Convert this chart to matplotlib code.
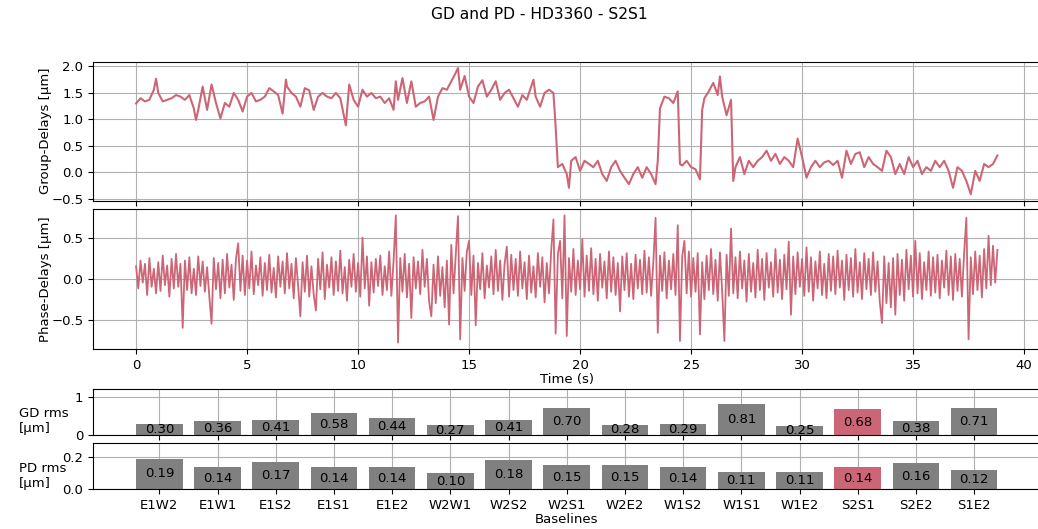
import numpy as np
import matplotlib.pyplot as plt

plt.rcParams["font.size"] = 9.5

# group-delay trace for S2S1 (time in s, value in µm)
gd_time = [0.0, 0.2, 0.4, 0.6, 0.8, 0.9, 1.0, 1.2, 1.4, 1.6, 1.8, 2.0, 2.2, 2.4, 2.6, 2.7,
           2.8, 3.0, 3.2, 3.4, 3.6, 3.8, 4.0, 4.2, 4.4, 4.6, 4.8, 5.0, 5.2, 5.4, 5.6, 5.8,
           6.0, 6.2, 6.4, 6.6, 6.75, 6.8, 7.0, 7.2, 7.4, 7.6, 7.8, 8.0, 8.2, 8.4, 8.6, 8.8,
           9.0, 9.2, 9.4, 9.45, 9.6, 9.8, 10.0, 10.2, 10.4, 10.6, 10.8, 11.0, 11.2, 11.4, 11.6, 11.7,
           11.8, 12.0, 12.2, 12.4, 12.6, 12.8, 13.0, 13.2, 13.4, 13.6, 13.8, 14.0, 14.2, 14.4, 14.5, 14.6,
           14.8, 15.0, 15.2, 15.4, 15.6, 15.8, 16.0, 16.2, 16.4, 16.6, 16.8, 17.0, 17.2, 17.4, 17.6, 17.8,
           17.9, 18.0, 18.2, 18.4, 18.6, 18.8, 18.9, 19.0, 19.2, 19.4, 19.5, 19.6, 19.8, 20.0, 20.2, 20.4,
           20.6, 20.8, 21.0, 21.2, 21.4, 21.6, 21.8, 22.0, 22.2, 22.4, 22.6, 22.8, 23.0, 23.2, 23.4, 23.5,
           23.6, 23.8, 24.0, 24.2, 24.4, 24.5, 24.6, 24.8, 25.0, 25.2, 25.4, 25.5, 25.6, 25.8, 26.0, 26.2,
           26.3, 26.4, 26.6, 26.8, 26.9, 27.0, 27.2, 27.4, 27.6, 27.8, 28.0, 28.2, 28.4, 28.6, 28.8, 29.0,
           29.2, 29.4, 29.6, 29.8, 30.0, 30.2, 30.4, 30.6, 30.8, 31.0, 31.2, 31.4, 31.6, 31.8, 32.0, 32.2,
           32.4, 32.6, 32.8, 33.0, 33.2, 33.4, 33.6, 33.8, 34.0, 34.2, 34.4, 34.6, 34.8, 35.0, 35.2, 35.4,
           35.6, 35.8, 36.0, 36.2, 36.4, 36.6, 36.8, 37.0, 37.2, 37.4, 37.6, 37.8, 38.0, 38.2, 38.4, 38.6,
           38.8]
gd_values = [1.30, 1.40, 1.34, 1.37, 1.56, 1.77, 1.50, 1.34, 1.37, 1.40, 1.46, 1.43, 1.37, 1.46, 1.21, 0.99,
             1.18, 1.62, 1.18, 1.66, 1.31, 1.02, 1.31, 1.24, 1.50, 1.37, 1.15, 1.43, 1.50, 1.34, 1.37, 1.43,
             1.59, 1.53, 1.46, 1.11, 1.75, 1.62, 1.50, 1.43, 1.24, 1.59, 1.55, 1.18, 1.43, 1.50, 1.43, 1.40,
             1.50, 1.40, 0.99, 0.89, 1.66, 1.37, 1.24, 1.56, 1.43, 1.50, 1.40, 1.43, 1.31, 1.40, 1.18, 1.72,
             1.37, 1.78, 1.31, 1.72, 1.24, 1.31, 1.34, 1.43, 0.99, 1.43, 1.59, 1.56, 1.72, 1.88, 1.97, 1.56,
             1.82, 1.43, 1.31, 1.62, 1.74, 1.43, 1.56, 1.72, 1.37, 1.50, 1.56, 1.40, 1.24, 1.46, 1.37, 1.62,
             1.75, 1.43, 1.24, 1.50, 1.56, 1.50, 0.86, 0.10, 0.16, -0.03, -0.29, 0.22, 0.29, 0.03, 0.22, 0.16,
             0.10, 0.22, -0.03, -0.16, 0.10, 0.22, 0.03, -0.10, -0.22, -0.03, 0.10, -0.10, 0.10, -0.03, -0.22, 0.22,
             1.21, 1.43, 1.40, 1.31, 1.53, 0.16, 0.13, 0.22, 0.10, 0.06, -0.13, 1.18, 1.40, 1.53, 1.69, 1.46,
             1.81, 1.43, 1.08, 1.37, -0.16, 0.10, 0.29, -0.03, 0.22, 0.10, 0.22, 0.29, 0.41, 0.22, 0.35, 0.16,
             0.29, 0.22, 0.10, 0.64, 0.29, -0.10, 0.10, 0.22, 0.10, 0.19, 0.22, 0.14, 0.22, -0.10, 0.41, 0.16,
             0.35, 0.38, 0.10, 0.29, 0.16, 0.10, 0.03, 0.41, 0.29, -0.03, 0.16, -0.03, 0.29, 0.10, 0.22, -0.03,
             0.10, 0.03, 0.22, 0.10, 0.22, 0.03, -0.29, 0.10, 0.03, -0.16, -0.41, 0.03, -0.16, 0.16, 0.10, 0.16,
             0.32]

# phase-delay trace, sampled every 0.1 s
pd_values = [
    0.15, -0.12, 0.22, -0.05, 0.18, -0.20, 0.25, -0.10, 0.12, -0.18,
    0.20, -0.15, 0.28, -0.08, 0.16, -0.22, 0.24, -0.12, 0.30, -0.10,
    0.18, -0.60, 0.22, -0.14, 0.26, -0.18, 0.12, -0.20, 0.27, -0.09,
    0.21, -0.16, 0.14, -0.22, -0.55, 0.25, -0.13, 0.19, -0.24, 0.23,
    -0.18, 0.30, -0.11, 0.17, -0.26, 0.24, 0.43, -0.15, 0.28, -0.20,
    0.22, -0.12, 0.33, -0.19, 0.16, -0.08, 0.26, -0.21, 0.19, -0.14,
    0.29, -0.17, 0.13, -0.23, 0.27, -0.10, 0.21, -0.18, 0.31, -0.12,
    0.18, -0.24, 0.25, -0.09, -0.46, 0.20, -0.16, 0.28, -0.22, 0.15,
    -0.19, -0.39, 0.24, -0.13, 0.32, -0.25, 0.17, -0.11, 0.26, -0.20,
    0.21, -0.15, 0.34, -0.18, 0.14, -0.27, 0.23, -0.10, 0.30, -0.16,
    0.19, -0.22, 0.50, -0.12, 0.27, -0.33, 0.20, -0.17, 0.24, -0.09,
    0.28, -0.20, 0.15, -0.14, 0.33, -0.21, 0.22, 0.77, -0.78, 0.25,
    -0.16, 0.30, -0.23, 0.18, -0.48, 0.26, -0.12, 0.21, -0.19, 0.35,
    -0.10, 0.24, -0.28, -0.46, 0.17, -0.30, 0.27, -0.21, 0.14, -0.35,
    0.22, -0.56, 0.41, -0.18, 0.30, 0.76, -0.74, 0.25, -0.15, 0.33,
    0.46, -0.20, 0.28, -0.57, 0.19, -0.13, 0.31, -0.24, 0.16, -0.11,
    0.27, -0.19, 0.35, -0.15, 0.22, -0.26, 0.18, 0.39, -0.22, 0.29,
    -0.14, 0.24, -0.21, 0.33, -0.12, 0.20, -0.25, 0.28, -0.17, 0.15,
    -0.23, 0.31, -0.10, 0.26, -0.29, 0.19, -0.18, 0.34, 0.72, -0.67,
    0.30, 0.46, -0.24, 0.77, -0.70, 0.25, -0.16, 0.36, -0.20, 0.22,
    -0.13, 0.48, -0.22, 0.28, -0.15, 0.37, -0.19, 0.24, -0.27, 0.30,
    -0.11, 0.21, -0.24, 0.33, -0.16, 0.26, -0.20, 0.19, -0.40, 0.27,
    -0.14, 0.31, -0.22, 0.18, -0.25, 0.29, -0.12, 0.23, -0.19, 0.34,
    -0.17, 0.26, -0.21, 0.20, 0.74, -0.66, 0.28, -0.15, 0.32, -0.24,
    0.22, -0.13, 0.30, -0.20, 0.65, -0.76, 0.27, 0.46, -0.18, 0.33,
    -0.22, 0.25, -0.16, 0.31, -0.68, 0.20, -0.25, 0.28, -0.14, 0.36,
    -0.19, 0.23, -0.27, 0.32, -0.15, -0.76, 0.29, -0.21, 0.61, -0.18,
    0.26, -0.24, 0.33, -0.12, 0.22, -0.28, 0.30, -0.16, 0.19, -0.23,
    0.35, -0.14, 0.24, -0.26, 0.31, -0.11, 0.20, -0.22, 0.36, -0.17,
    0.23, -0.25, 0.29, -0.13, 0.45, -0.44, 0.27, -0.19, 0.32, -0.10,
    0.24, -0.21, 0.38, -0.16, 0.26, -0.27, 0.21, -0.12, 0.33, -0.20,
    0.18, -0.24, 0.30, -0.15, 0.27, -0.19, 0.34, -0.11, 0.22, -0.26,
    0.29, -0.14, 0.25, -0.22, 0.36, -0.17, 0.20, -0.25, 0.31, -0.13,
    0.24, -0.20, 0.32, -0.16, 0.21, -0.28, -0.54, 0.27, -0.30, 0.19,
    -0.35, 0.25, -0.44, 0.30, -0.20, 0.23, -0.27, 0.35, -0.13, 0.28,
    -0.22, 0.46, -0.18, 0.31, -0.25, 0.20, -0.14, 0.33, -0.21, 0.26,
    -0.17, 0.29, -0.24, 0.22, -0.11, 0.34, -0.20, 0.27, -0.26, 0.30,
    -0.15, 0.24, -0.22, 0.31, 0.74, -0.74, 0.26, -0.19, 0.33, -0.14,
    0.28, -0.23, 0.36, -0.12, 0.52, -0.08, 0.40, -0.05, 0.35,
]
pd_time = np.round(np.arange(len(pd_values)) * 0.1, 1)

baselines = ["E1W2", "E1W1", "E1S2", "E1S1", "E1E2", "W2W1", "W2S2", "W2S1",
             "W2E2", "W1S2", "W1S1", "W1E2", "S2S1", "S2E2", "S1E2"]
gd_rms = [0.30, 0.36, 0.41, 0.58, 0.44, 0.27, 0.41, 0.70, 0.28, 0.29, 0.81, 0.25, 0.68, 0.38, 0.71]
pd_rms = [0.19, 0.14, 0.17, 0.14, 0.14, 0.10, 0.18, 0.15, 0.15, 0.14, 0.11, 0.11, 0.14, 0.16, 0.12]
current = "S2S1"

rose = "#CC6677"
W, H = 1038, 529

fig = plt.figure(figsize=(W / 100, H / 100), dpi=100)
fig.suptitle("GD and PD - HD3360 - S2S1", x=0.52, y=0.972, va="center", fontsize=11.2)

def box(left, top, right, bottom):
    return [left / W, 1 - bottom / H, (right - left) / W, (bottom - top) / H]

ax_gd = fig.add_axes(box(93, 61.7, 1040.5, 200.5))
ax_pd = fig.add_axes(box(93, 209, 1040.5, 349), sharex=ax_gd)
ax_gdr = fig.add_axes(box(93, 388.7, 1040.5, 435.3))
ax_pdr = fig.add_axes(box(93, 443.3, 1040.5, 489.3), sharex=ax_gdr)

ax_gd.plot(gd_time, gd_values, color=rose, lw=1.5)
ax_gd.set_ylabel("Group-Delays [µm]")
ax_gd.set_yticks([-0.5, 0.0, 0.5, 1.0, 1.5, 2.0])
ax_gd.grid(True)
ax_gd.tick_params(labelbottom=False)

ax_pd.plot(pd_time, pd_values, color=rose, lw=1.3)
ax_pd.set_ylabel("Phase-Delays [µm]")
ax_pd.set_yticks([-0.5, 0, 0.5])
ax_pd.set_xlabel("Time (s)", labelpad=1)
ax_pd.grid(True)

for ax in (ax_gd, ax_pd):
    ax.yaxis.set_label_coords(-0.043, 0.5)

x = np.arange(len(baselines))
colors = [rose if b == current else "grey" for b in baselines]

for ax, vals, lab, ticks in [(ax_gdr, gd_rms, "GD rms\n[µm]", [0, 1]),
                             (ax_pdr, pd_rms, "PD rms\n[µm]", [0.0, 0.2])]:
    ax.bar(x, vals, color=colors, width=0.8)
    for xi, v in zip(x, vals):
        ax.text(xi, v / 2, f"{v:.2f}", ha="center", va="center")
    ax.set_ylim(0, 1.5 * max(vals))
    ax.set_yticks(ticks)
    ax.set_axisbelow(True)
    ax.grid(True)
    ax.set_ylabel(lab, rotation=0, ha="left", va="center")
    ax.yaxis.set_label_coords(-0.078, 0.30)

ax_gdr.set_xticks(x)
ax_gdr.tick_params(labelbottom=False)
ax_pdr.set_xticks(x, baselines)
ax_pdr.set_xlabel("Baselines", labelpad=1)

fig.savefig("out.png", dpi=100)
